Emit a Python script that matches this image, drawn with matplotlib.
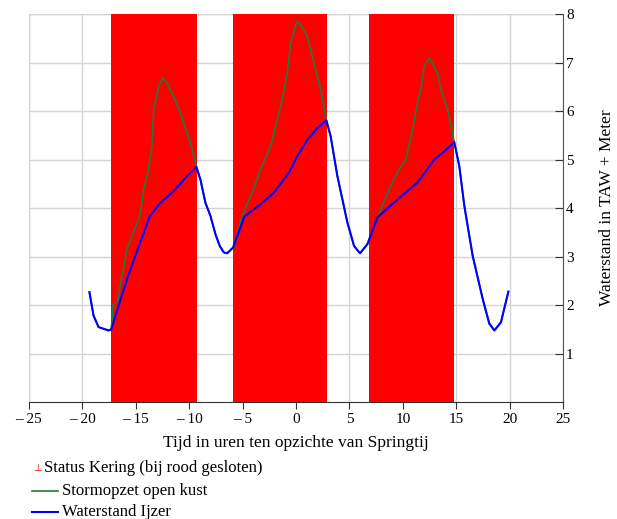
import matplotlib
matplotlib.use("Agg")
import matplotlib.pyplot as plt
from matplotlib.lines import Line2D

plt.rcParams['font.family'] = ['Liberation Serif', 'DejaVu Serif']

# periods when the barrier is closed (hours relative to spring tide)
kering_start = [-17.3, -5.85, 6.83]
kering_end = [-9.25, 2.93, 14.8]

# water level IJzer (m TAW)
t_ijzer = [-19.32, -18.94, -18.47, -17.54, -17.28, -15.81, -13.69, -12.69, -11.44,
           -10.19, -9.32, -8.94, -8.47, -8.0, -7.53, -7.13, -6.76, -6.44, -5.88,
           -4.82, -3.32, -2.07, -0.67, 0.12, 1.06, 2.0, 2.84, 3.24, 3.87, 4.81,
           5.43, 5.99, 6.68, 7.62, 9.49, 11.37, 12.92, 13.86, 14.8, 15.27, 15.74,
           16.52, 17.46, 18.08, 18.55, 19.17, 19.86]
h_ijzer = [2.27, 1.79, 1.55, 1.48, 1.50, 2.54, 3.83, 4.11, 4.35,
           4.66, 4.85, 4.59, 4.11, 3.84, 3.46, 3.22, 3.09, 3.07, 3.19,
           3.83, 4.08, 4.32, 4.73, 5.07, 5.41, 5.65, 5.81, 5.48, 4.66, 3.70,
           3.22, 3.07, 3.26, 3.81, 4.18, 4.53, 5.0, 5.17, 5.36, 4.87, 4.05,
           3.02, 2.13, 1.62, 1.48, 1.65, 2.28]

# storm surge open coast (m TAW)
t_storm = [-19.32, -18.94, -18.47, -17.54, -17.28, -17.1, -16.7, -16.44, -15.81,
           -14.72, -14.53, -14.25, -13.79, -13.47, -13.31, -12.85, -12.44, -12.06,
           -11.44, -10.81, -10.19, -9.88, -9.32, -8.94, -8.47, -8.0, -7.53, -7.13,
           -6.76, -6.44, -5.88, -5.03, -4.10, -3.32, -2.38, -2.22, -1.28, -0.82,
           -0.51, 0.06, 0.43, 1.06, 1.68, 2.31, 2.84, 3.24, 3.87, 4.81, 5.43,
           5.99, 6.68, 7.62, 8.85, 9.64, 10.27, 10.90, 11.42, 11.68, 11.99, 12.46,
           12.77, 13.24, 13.55, 14.18, 14.8, 15.27, 15.74, 16.52, 17.46, 18.08,
           18.55, 19.17, 19.86]
h_storm = [2.27, 1.79, 1.55, 1.48, 1.50, 2.02, 2.05, 2.40, 3.16,
           3.77, 3.91, 4.39, 4.80, 5.28, 6.03, 6.51, 6.68, 6.58,
           6.30, 5.96, 5.55, 5.35, 4.87, 4.59, 4.11, 3.84, 3.46, 3.22,
           3.09, 3.07, 3.19, 3.84, 4.32, 4.80, 5.28, 5.41, 6.24, 6.78,
           7.40, 7.85, 7.78, 7.54, 6.99, 6.44, 5.81, 5.48, 4.66, 3.70, 3.22,
           3.07, 3.26, 3.81, 4.46, 4.80, 5.0, 5.62, 6.24, 6.44, 6.92, 7.09,
           6.98, 6.78, 6.44, 6.03, 5.36, 4.87, 4.05, 3.02, 2.13, 1.62,
           1.48, 1.65, 2.28]

xticks = [-25, -20, -15, -10, -5, 0, 5, 10, 15, 20, 25]
yticks = [1, 2, 3, 4, 5, 6, 7, 8]

fig = plt.figure(figsize=(6.17, 5.19), dpi=100)
ax = fig.add_axes([0.0465, 0.2249, 0.8665, 0.748])

widths = [e - s for s, e in zip(kering_start, kering_end)]
ax.bar(kering_start, [8] * len(kering_start), width=widths, align='edge',
       color='#ff0000', zorder=2)
ax.plot(t_storm, h_storm, color='#1f7a3f', lw=1.2, zorder=3)
ax.plot(t_ijzer, h_ijzer, color='#0000ff', lw=1.5, zorder=4)

ax.set_xlim(-25, 25)
ax.set_ylim(0, 8)
ax.set_xticks(xticks)
ax.set_xticklabels([("\u2013 %d" % -v) if v < 0 else str(v) for v in xticks])
ax.set_yticks(yticks)
ax.yaxis.tick_right()
ax.yaxis.set_label_position('right')
ax.tick_params(axis='x', direction='out', length=5, width=0.8, labelsize=11,
               colors='#333333', labelcolor='black', pad=3)
ax.tick_params(axis='y', direction='in', length=6, width=0.8, labelsize=11,
               colors='#333333', labelcolor='black', pad=2)
for lab in ax.get_yticklabels():
    lab.set_horizontalalignment('left')

ax.spines['top'].set_visible(False)
ax.spines['left'].set_visible(False)
ax.spines['bottom'].set_color('#333333')
ax.spines['right'].set_color('#555555')
ax.grid(True, color='#d4d4d4', lw=1.0)
ax.set_axisbelow(True)
# make grid show at the top and left edge
ax.axhline(8, color='#d4d4d4', lw=1.0, zorder=0)
ax.axvline(-25, color='#d4d4d4', lw=1.0, zorder=0)

ax.set_xlabel("Tijd in uren ten opzichte van Springtij", fontsize=12.5, labelpad=6)
ax.set_ylabel("Waterstand in TAW + Meter", fontsize=12.5, labelpad=18)

# legend below the plot
fig.text(33 / 617, 1 - 468 / 519, "\u22a5", color='#ff0000', fontsize=7,
         family=['DejaVu Sans'], va='center', ha='left')
fig.text(44 / 617, 1 - 468 / 519, "Status Kering (bij rood gesloten)",
         fontsize=12, va='center', ha='left')
fig.add_artist(Line2D([32 / 617, 58 / 617], [1 - 491 / 519] * 2,
                      color='#1f7a3f', lw=1.2))
fig.text(62 / 617, 1 - 491 / 519, "Stormopzet open kust",
         fontsize=12, va='center', ha='left')
fig.add_artist(Line2D([32 / 617, 58 / 617], [1 - 512 / 519] * 2,
                      color='#0000ff', lw=1.5))
fig.text(62 / 617, 1 - 512 / 519, "Waterstand Ijzer",
         fontsize=12, va='center', ha='left')

fig.savefig("out.png", dpi=100)
